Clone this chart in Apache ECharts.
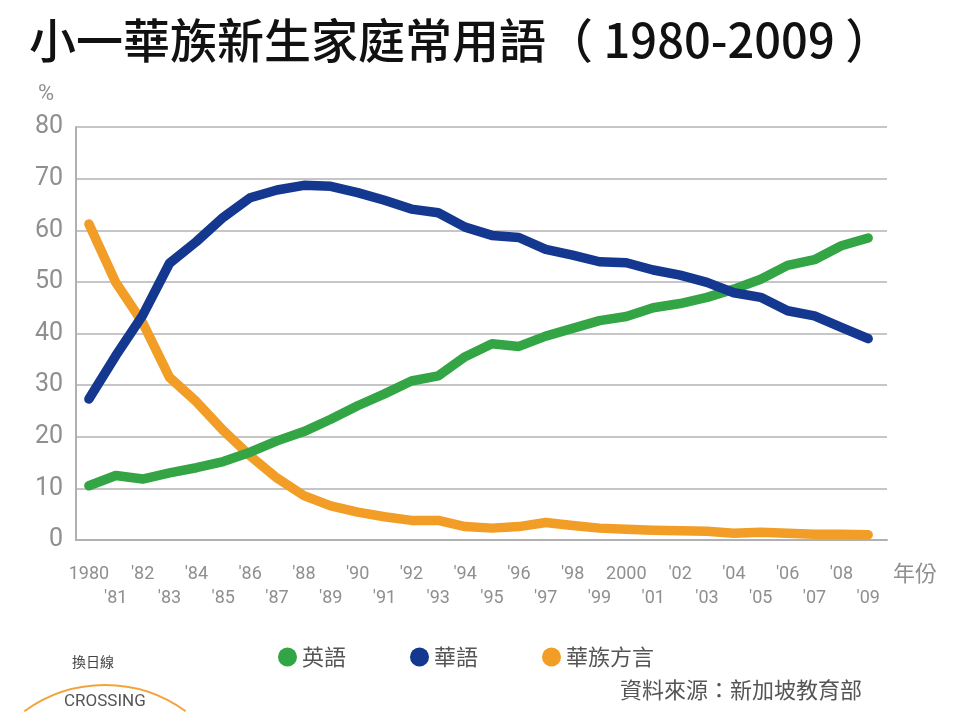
<!DOCTYPE html>
<html>
<head>
<meta charset="utf-8">
<script src="https://cdn.jsdelivr.net/npm/echarts@6/dist/echarts.min.js"></script>
<style>
html,body{margin:0;padding:0;background:#fff;}
#chart{width:960px;height:727px;}
</style>
</head>
<body>
<div id="chart"></div>
<script>
const years = [1980,1981,1982,1983,1984,1985,1986,1987,1988,1989,1990,1991,1992,1993,1994,1995,1996,1997,1998,1999,2000,2001,2002,2003,2004,2005,2006,2007,2008,2009];
const english = [10.5,12.5,11.8,13.0,14.0,15.2,17.0,19.2,21.0,23.4,26.0,28.3,30.8,31.8,35.5,38.0,37.5,39.5,41.0,42.5,43.3,45.0,45.8,47.0,48.6,50.5,53.2,54.3,57.0,58.5];
const mandarin = [27.3,35.7,43.5,53.6,57.8,62.5,66.3,67.8,68.7,68.5,67.3,65.8,64.1,63.4,60.6,59.0,58.6,56.3,55.2,53.9,53.7,52.3,51.3,49.9,47.9,47.0,44.4,43.4,41.2,39.0];
const dialect = [61.2,49.9,42.1,31.5,26.8,21.2,16.3,12.0,8.6,6.6,5.4,4.5,3.8,3.8,2.6,2.3,2.6,3.4,2.8,2.3,2.1,1.9,1.8,1.7,1.3,1.5,1.3,1.1,1.1,1.0];
const seriesNames = ['英語','華語','華族方言'];
const yTicks = [0,10,20,30,40,50,60,70,80];

const grey = '#8f8f8f';
const numFont = "'Roboto',sans-serif";
const cjkFont = "'Noto Sans CJK TC','Noto Sans CJK SC',sans-serif";

const evenYears = years.filter(y => y % 2 === 0);
const oddYears = years.filter(y => y % 2 === 1);
function yearLabel(v){
  const y = Math.round(v);
  return (y === 1980 || y === 2000) ? String(y) : "'" + String(y).slice(2);
}
function pairs(arr){ return years.map((y,i)=>[y,arr[i]]); }

function xAxisCfg(values, margin, showLine){
  return {
    type:'value', min:1979.52, max:2009.7, position:'bottom',
    axisLine:{show:showLine, onZero:false, lineStyle:{color:'#b0b0b0', width:2}},
    axisTick:{show:false},
    splitLine:{show:false},
    axisLabel:{
      customValues: values,
      formatter: yearLabel,
      showMinLabel:true, showMaxLabel:true,
      fontFamily:numFont, fontSize:18, color:grey, lineHeight:24, margin:margin
    }
  };
}

const chart = echarts.init(document.getElementById('chart'));
chart.setOption({
  backgroundColor:'#ffffff',
  animation:false,
  title:{
    text:'小一華族新生家庭常用語（ 1980-2009 ）',
    left:24, top:12,
    textStyle:{fontFamily:cjkFont, fontSize:47, fontWeight:500, color:'#111'}
  },
  grid:{left:76, right:73, top:127, bottom:187, containLabel:false},
  legend:{
    data:seriesNames,
    left:273, top:641,
    icon:'circle', itemWidth:19, itemHeight:19, itemGap:64,
    textStyle:{fontFamily:cjkFont, fontSize:22, color:'#555'}
  },
  xAxis:[ xAxisCfg(evenYears, 22, true), xAxisCfg(oddYears, 46, false) ],
  yAxis:{
    type:'value', min:0, max:80, interval:10,
    axisLine:{show:true, lineStyle:{color:'#b0b0b0', width:2}},
    axisTick:{show:false},
    splitLine:{lineStyle:{color:'#b3b3b3', width:1.5}},
    axisLabel:{fontFamily:numFont, fontSize:25, color:grey, margin:13}
  },
  series:[
    {name:seriesNames[0], type:'line', xAxisIndex:0, data:pairs(english), symbol:'none', z:3,
     itemStyle:{color:'#34a544'}, lineStyle:{color:'#34a544', width:9.5, cap:'round', join:'round'}},
    {name:seriesNames[1], type:'line', xAxisIndex:0, data:pairs(mandarin), symbol:'none', z:4,
     itemStyle:{color:'#14378f'}, lineStyle:{color:'#14378f', width:9.5, cap:'round', join:'round'}},
    {name:seriesNames[2], type:'line', xAxisIndex:0, data:pairs(dialect), symbol:'none', z:2,
     itemStyle:{color:'#f29d25'}, lineStyle:{color:'#f29d25', width:9.5, cap:'round', join:'round'}}
  ],
  graphic:[
    {type:'text', left:38, top:83, style:{text:'%', fontFamily:numFont, fontSize:22, fill:grey}},
    {type:'text', left:893, top:562, style:{text:'年份', fontFamily:cjkFont, fontSize:22, fill:grey}},
    {type:'text', right:98, top:679, style:{text:'資料來源：新加坡教育部', fontFamily:cjkFont, fontSize:22, fill:'#555'}},
    {type:'text', left:72, top:655, style:{text:'換日線', fontFamily:cjkFont, fontSize:14, fill:'#444'}},
    {type:'arc', shape:{cx:105, cy:822, r:137, startAngle:-Math.PI/2-0.63, endAngle:-Math.PI/2+0.63},
     style:{stroke:'#f2a43a', lineWidth:2, fill:null}},
    {type:'text', left:64, top:693, style:{text:'CROSSING', fontFamily:numFont, fontSize:17, fill:'#555'}}
  ]
});
</script>
</body>
</html>
